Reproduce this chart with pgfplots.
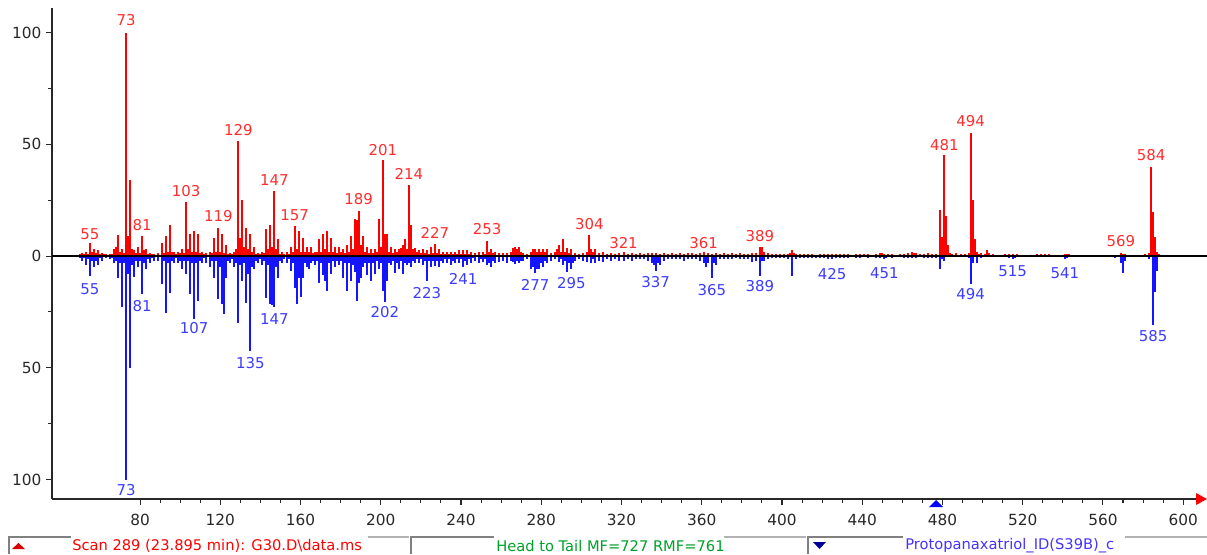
\documentclass[border=0pt]{standalone}
\usepackage{pgfplots}
\pgfplotsset{compat=1.18}
\usepackage{fontspec}
\setmainfont{DejaVu Sans}
\definecolor{stickred}{RGB}{255,0,0}
\definecolor{stickblue}{RGB}{20,20,255}
\definecolor{labred}{RGB}{255,45,45}
\definecolor{labblue}{RGB}{60,60,255}
\definecolor{statgreen}{RGB}{0,160,40}
\definecolor{statblue}{RGB}{70,50,255}
\definecolor{axgray}{RGB}{40,40,40}
\newcommand{\lab}{\fontsize{11.2}{13}\selectfont}
\newcommand{\stat}{\fontsize{11}{12}\selectfont}
\begin{document}
\begin{tikzpicture}
\useasboundingbox (0,0) rectangle (905.25pt,415.5pt);
\begin{axis}[
  at={(39pt,41.25pt)}, anchor=south west,
  scale only axis, width=859.5pt, height=368.25pt,
  xmin=36.1, xmax=607.4, ymin=-108.7, ymax=111,
  axis x line=bottom, axis y line=left,
  axis line style={-, axgray, line width=1.1pt},
  clip=false,
  xtick={80,120,...,600}, minor x tick num=3,
  ytick={-100,-50,0,50,100}, yticklabels={100,50,0,50,100},
  minor ytick={-75,-25,25,75},
  tick align=outside,
  major tick length=4.5pt, minor tick length=3pt,
  every tick/.style={axgray, line width=0.8pt},
  tick label style={font=\fontsize{11.5}{13}\selectfont, text=axgray},
  xticklabel style={yshift=-3pt},
  /pgf/number format/assume math mode=true,
  /pgf/number format/1000 sep={},
]
\addplot[ycomb, stickred, line width=1.5pt] table {
x y
50 1
51 1.5
52 1
53 2
54 1
55 6
56 2
57 3
58 1.5
59 2.5
60 1
61 1.5
62 1
63 1
65 1
66 1
67 3
68 4
69 9.5
70 2
71 3
72 1.5
73 100
74 9
75 34
76 3
77 2.5
78 1.5
79 4
80 1.5
81 9
82 2.5
83 3
84 1
85 1.5
86 1
87 1
89 1.5
91 6
92 1.5
93 9
94 2
95 14
96 2
97 2
98 1
99 2
100 1.5
101 3
102 1.5
103 24
104 3
105 10
106 2
107 11
108 2
109 10
110 1.5
111 2
112 1
113 1.5
115 2
116 1.5
117 8
118 2
119 12.5
120 2
121 10
122 1.5
123 5
124 1
125 1.5
126 1
127 2
128 3
129 51.6
130 8
131 25
132 4
133 12.5
134 3
135 10
136 2
137 4
138 1
139 1.5
140 1
141 2
142 1.5
143 12
144 3
145 14
146 4
147 29
148 3
149 7.5
150 1
151 2
152 1
153 2
154 1
155 4
156 2
157 13.5
158 3
159 11
160 2
161 8
162 2
163 4
164 2
165 4
166 1.5
167 2
168 2
169 7.5
170 2
171 10
172 3
173 11
174 2
175 8
176 2
177 4
178 1.5
179 4
180 2
181 3
182 1.5
183 5
184 2
185 9
186 3
187 16.5
188 16
189 20
190 5
191 9
192 2
193 4
194 1.5
195 3
196 1.5
197 3
198 2
199 16.5
200 4
201 43
202 10
203 10
204 2
205 4
206 1.5
207 3
208 2
209 3
210 3.5
211 5
212 7.5
213 3
214 32
215 14
216 3
217 3.5
218 2
219 2.5
220 1.5
221 3
222 1.5
223 2.5
224 1
225 4
226 1.5
227 5.5
228 1.5
229 3
230 1
231 2
232 1
233 2
234 1
235 2
236 1
237 2
238 1
239 2.5
240 1
241 2.5
242 1
243 2.5
244 1
245 2
247 1.5
249 2
251 2
252 1
253 6.7
254 2
255 3
256 1.5
257 2
259 1.5
261 1.5
263 1.5
265 2
266 3.5
267 4
268 3
269 4
270 2
271 1.5
273 1
275 2
276 3
277 3
278 2
279 3
280 2
281 3
282 2
283 3
285 1.5
287 2
288 3
289 5
290 2
291 7.5
292 2
293 3.5
294 1.5
295 3
297 1.5
299 1
301 1.5
303 2
304 9.5
305 3
306 2
307 3
309 1.5
311 2
313 1
315 1.5
317 1
319 1.5
321 2
323 1
325 1.5
327 1
329 1.5
331 1
333 1.5
335 1.5
337 1.5
339 1
341 1.5
343 1
345 1.5
347 1
349 1.5
351 1
353 1.5
355 1.5
357 1
359 1.5
361 2
363 1.5
365 1
367 1.5
369 1
371 1.5
373 1
375 1.5
377 1
379 1.5
381 1
383 1
385 1.5
387 1.5
389 4
390 4
391 2
393 1.5
395 1
397 1
399 1
401 1
403 1
404 1.5
405 2.5
406 1.5
407 1
409 1
411 1
413 1
415 1
419 1
421 1
423 1
425 1
427 1
429 1
431 1
433 1
437 1
439 1
441 1
443 0.8
447 1
449 1.5
450 1.5
451 1
453 1
455 1
459 1
461 1
463 1.5
465 2
466 1.5
467 1.5
469 1
471 1
473 1.5
475 1
477 1
479 20.6
480 8.5
481 45
482 18
483 5
484 1.5
485 1
487 1.5
489 1
491 1
493 1.5
494 55
495 25
496 7.5
497 2
498 1
499 1.5
501 1
502 2.5
503 1.5
505 1
511 0.8
513 1
515 1
517 0.8
527 0.8
529 1
531 1
533 0.8
541 0.8
542 1
543 0.8
565 0.5
569 1.5
570 1
571 1
581 1
583 1.5
584 40
585 19.5
586 8.5
587 2
588 1
};
\addplot[ycomb, stickblue, line width=1.5pt] table {
x y
50 -1
51 -2
52 -1
53 -4
54 -1.5
55 -9
56 -2
57 -5
58 -2
59 -4
60 -1
61 -2
63 -1
65 -1.5
66 -1
67 -3
68 -2
69 -10
70 -3
71 -23
72 -3
73 -100
74 -8
75 -50
76 -4
77 -9.5
78 -2
79 -5
80 -2
81 -17
82 -3
83 -6
84 -1.5
85 -3
86 -1
87 -2
89 -2
91 -12.5
92 -2
93 -25.5
94 -3
95 -16.5
96 -2
97 -3
98 -1
99 -3
100 -2
101 -6
102 -2
103 -8
104 -2
105 -17
106 -3
107 -28
108 -3
109 -20
110 -2
111 -3
112 -1
113 -3
115 -5
116 -2
117 -10
118 -2
119 -19
120 -5
121 -21.5
122 -26
123 -10
124 -2
125 -3
126 -1.5
127 -5
128 -3
129 -30
130 -4
131 -11
132 -3
133 -21
134 -8
135 -42.6
136 -5
137 -6
138 -2
139 -3
140 -1.5
141 -4
142 -2
143 -18.6
144 -4
145 -21.5
146 -22
147 -23
148 -5
149 -10
150 -2
151 -3
152 -1.5
153 -3
154 -1.5
155 -6.5
156 -3
157 -14.5
158 -21.5
159 -10
160 -18.5
161 -10
162 -3
163 -5
164 -6
165 -3
166 -2
167 -4
168 -2
169 -12
170 -3
171 -8.5
172 -11
173 -15.5
174 -3
175 -8
176 -2
177 -5
178 -2
179 -4
180 -2
181 -10
182 -3
183 -15.5
184 -3
185 -11
186 -4
187 -7
188 -20
189 -12
190 -10
191 -5
192 -3
193 -8.5
194 -3
195 -11
196 -3
197 -8
198 -2
199 -6
200 -3
201 -15.5
202 -20.5
203 -11
204 -3
205 -4
206 -2
207 -7.5
208 -3
209 -6
210 -2
211 -8
212 -3
213 -4
214 -3
215 -5
216 -2
217 -3
218 -1.5
219 -3
220 -1.5
221 -4
222 -2
223 -11
224 -2
225 -5
226 -2
227 -4.5
228 -2
229 -5
230 -2
231 -3
232 -1.5
233 -3
234 -1.5
235 -4
236 -2
237 -3
238 -1.5
239 -3
240 -1.5
241 -5
242 -2
243 -4
244 -1.5
245 -3
246 -1
247 -2
249 -3
250 -1.5
251 -2.5
252 -1.5
253 -4
254 -3
255 -5
256 -2
257 -3
259 -2.5
261 -2
263 -3
265 -2
266 -2.5
267 -3.5
268 -2
269 -3
270 -2
271 -2
273 -1.5
275 -6
276 -5
277 -7.5
278 -6
279 -6
280 -3
281 -5
282 -2
283 -3
285 -2
287 -1.5
289 -2.5
290 -1.5
291 -4
292 -2
293 -7
294 -3
295 -6
296 -3
297 -2
299 -1.5
301 -2
303 -2.5
305 -3
306 -1.5
307 -3
309 -2
311 -2.5
313 -1.5
315 -2
317 -1.5
319 -2
321 -2
323 -1.5
325 -2
327 -1.5
329 -1.5
331 -1.5
333 -2
335 -3
336 -4
337 -6.5
338 -3
339 -4
341 -2
343 -1.5
345 -1.5
347 -1.5
349 -1.5
351 -2
353 -1.5
355 -1.5
357 -1.5
359 -2
361 -3
362 -5
363 -3
365 -10
366 -3
367 -4
369 -1.5
371 -1.5
373 -1.5
375 -1.5
377 -1
379 -1.5
381 -1.5
383 -1.5
385 -2.5
387 -2
389 -9
390 -2
391 -2
393 -1.5
395 -1
397 -1
399 -1
401 -1
403 -1.5
405 -9
407 -1.5
409 -1
411 -1
413 -1
415 -1
417 -1
419 -1
421 -1
423 -1.5
425 -1.5
427 -1
429 -1
431 -1
433 -1
437 -0.8
439 -0.8
443 -1
447 -1
449 -1
451 -1.5
452 -1
455 -0.8
461 -0.8
463 -1
465 -1
467 -1
471 -0.8
473 -1
475 -0.8
477 -1
479 -6
480 -1.5
481 -2
493 -1
494 -12.5
495 -3
497 -3
499 -1
513 -1
515 -1.5
516 -1
541 -1.5
542 -1
566 -0.8
569 -3
570 -7.5
571 -2
583 -1.5
585 -31
586 -16
587 -6.5
};
\draw[black, line width=1.1pt] (axis cs:36.1,0) -- (axis cs:612,0);
% sample peak labels
\begin{scope}[every node/.style={font=\lab, text=labred, inner sep=0pt}]
\node at (axis cs:55,9.8) {55};
\node at (axis cs:73,105.6) {73};
\node at (axis cs:81,13.9) {81};
\node at (axis cs:103,29) {103};
\node at (axis cs:119,17.9) {119};
\node at (axis cs:129,56.4) {129};
\node at (axis cs:147,34) {147};
\node at (axis cs:157,18.3) {157};
\node at (axis cs:189,25.5) {189};
\node at (axis cs:201,47.4) {201};
\node at (axis cs:214,36.7) {214};
\node at (axis cs:227,10.3) {227};
\node at (axis cs:253,12.1) {253};
\node at (axis cs:304,14.3) {304};
\node at (axis cs:321,5.8) {321};
\node at (axis cs:361,5.8) {361};
\node at (axis cs:389,8.9) {389};
\node at (axis cs:481,49.7) {481};
\node at (axis cs:494,60.4) {494};
\node at (axis cs:569,6.7) {569};
\node at (axis cs:584,45.2) {584};
\end{scope}
\begin{scope}[every node/.style={font=\lab, text=labblue, inner sep=0pt}]
\node at (axis cs:55,-14.8) {55};
\node at (axis cs:73,-104.7) {73};
\node at (axis cs:81,-22.4) {81};
\node at (axis cs:107,-32.2) {107};
\node at (axis cs:135,-47.9) {135};
\node at (axis cs:147,-28.2) {147};
\node at (axis cs:202,-25.1) {202};
\node at (axis cs:223,-16.6) {223};
\node at (axis cs:241,-10.3) {241};
\node at (axis cs:277,-13) {277};
\node at (axis cs:295,-12.1) {295};
\node at (axis cs:337,-11.6) {337};
\node at (axis cs:365,-15.2) {365};
\node at (axis cs:389,-13.4) {389};
\node at (axis cs:425,-8.1) {425};
\node at (axis cs:451,-7.6) {451};
\node at (axis cs:494,-17) {494};
\node at (axis cs:515,-6.7) {515};
\node at (axis cs:541,-7.6) {541};
\node at (axis cs:585,-35.8) {585};
\end{scope}
\end{axis}
\begin{scope}[x=0.75pt,y=0.75pt]
% axis markers
\fill[blue] (929,47) -- (943,47) -- (936,54) -- cycle;
\fill[red] (1196,49) -- (1207,55) -- (1196,61) -- cycle;
% status bar
\draw[gray, line width=1.2pt] (9,0) -- (9,17) -- (71,17);
\draw[gray!60, line width=1.2pt] (368,17) -- (409,17);
\draw[gray, line width=1.2pt] (411,0) -- (411,17) -- (494,17);
\draw[gray!60, line width=1.2pt] (724,17) -- (806,17);
\draw[gray, line width=1.2pt] (808,0) -- (808,17) -- (903,17);
\draw[gray!60, line width=1.2pt] (1125,17) -- (1207,17);
\fill[red!85!black] (12,5) -- (25,5) -- (18.5,11) -- cycle;
\fill[blue!60!black] (813,12) -- (826,12) -- (819.5,5) -- cycle;
\node[anchor=west, inner sep=0pt, font=\stat, text=red] at (72,8) {Scan 289 (23.895 min): G30.D\textbackslash data.ms};
\node[anchor=west, inner sep=0pt, font=\stat, text=statgreen] at (496,8) {Head to Tail MF=727 RMF=761};
\node[anchor=west, inner sep=0pt, font=\stat, text=statblue] at (905,8) {Protopanaxatriol\_ID(S39B)\_c};
\end{scope}
\end{tikzpicture}
\end{document}
